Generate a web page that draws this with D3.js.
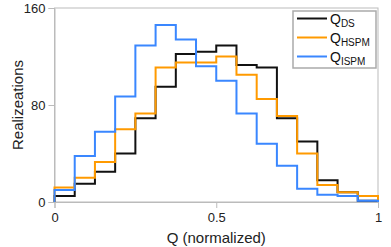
<!DOCTYPE html>
<html>
<head>
<meta charset="utf-8">
<script src="https://cdn.jsdelivr.net/npm/d3@7"></script>
<style>
  body { margin: 0; background: #fff; }
  svg { display: block; font-family: "Liberation Sans", Arial, sans-serif; }
</style>
</head>
<body>
<svg id="chart" width="391" height="247"></svg>
<script>
// histogram of Q, 16 bins over [0, 1]
const binCount = 16
const qDS = [5, 15, 25, 40, 69, 95, 122, 124, 129, 113, 111, 69, 50, 18, 8, 1]
const qHSPM = [12, 20, 33, 60, 73, 111, 115, 115, 120, 105, 85, 71, 40, 14, 8, 5]
const qISPM = [10, 38, 58, 87, 129, 146, 134, 112, 100, 73, 48, 30, 11, 6, 5, 1]
const xTicks = [0, 0.5, 1]
const yTicks = [0, 80, 160]
const seriesNames = ['DS', 'HSPM', 'ISPM']
const seriesColors = ['#111111', '#ff9a00', '#3a87ff']

const svg = d3.select('#chart')
const margin = { left: 54.5, right: 13, top: 8, bottom: 45 }
const width = 391
const height = 247

const x = d3.scaleLinear().domain([0, 1]).range([margin.left, width - margin.right])
const y = d3.scaleLinear().domain([0, 160]).range([height - margin.bottom, margin.top])

const grey = '#bbbbbb'

// frame
svg.append('rect')
  .attr('x', x(0)).attr('y', y(160))
  .attr('width', x(1) - x(0)).attr('height', y(0) - y(160))
  .attr('fill', 'none').attr('stroke', grey).attr('stroke-width', 1)

const xAxis = svg.append('g')
  .attr('transform', `translate(0,${y(0)})`)
  .call(d3.axisBottom(x).tickValues(xTicks).tickFormat(d3.format('')).tickSize(6).tickPadding(5))
const yAxis = svg.append('g')
  .attr('transform', `translate(${x(0)},0)`)
  .call(d3.axisLeft(y).tickValues(yTicks).tickSize(6).tickPadding(3))

for (const g of [xAxis, yAxis]) {
  g.select('.domain').attr('stroke', grey)
  g.selectAll('.tick line').attr('stroke', grey)
  g.selectAll('.tick text').attr('fill', '#222').style('font-size', '13px')
}

// step outline for one series
function stepPoints (vals) {
  const pts = [[0, 0]]
  vals.forEach((v, i) => {
    pts.push([i / binCount, v])
    pts.push([(i + 1) / binCount, v])
  })
  pts.push([1, 0])
  return pts
}

const line = d3.line()
  .x(d => x(d[0]))
  .y(d => y(d[1]))

const allSeries = [qDS, qHSPM, qISPM]
allSeries.forEach((vals, i) => {
  svg.append('path')
    .attr('d', line(stepPoints(vals)))
    .attr('fill', 'none')
    .attr('stroke', seriesColors[i])
    .attr('stroke-width', 2)
})

// axis titles
svg.append('text')
  .attr('x', (x(0) + x(1)) / 2).attr('y', 243)
  .attr('text-anchor', 'middle')
  .style('font-size', '15px').attr('fill', '#222')
  .text('Q (normalized)')

svg.append('text')
  .attr('transform', `translate(23,${(y(0) + y(160)) / 2}) rotate(-90)`)
  .attr('text-anchor', 'middle')
  .style('font-size', '15px').attr('fill', '#222')
  .text('Realizeations')

// legend
const legend = svg.append('g').attr('transform', 'translate(293,11)')
legend.append('rect')
  .attr('width', 83).attr('height', 57)
  .attr('fill', '#fff').attr('stroke', '#aaaaaa').attr('stroke-width', 1.5)

seriesNames.forEach((name, i) => {
  const row = legend.append('g').attr('transform', `translate(0,${7.5 + i * 19})`)
  row.append('line')
    .attr('x1', 4).attr('x2', 34)
    .attr('stroke', seriesColors[i]).attr('stroke-width', 2)
  const t = row.append('text')
    .attr('x', 37).attr('y', 5)
    .attr('fill', '#111').style('font-size', '14px')
  t.append('tspan').text('Q')
  t.append('tspan').attr('dy', 3).style('font-size', '10px').text(name)
})
</script>
</body>
</html>
